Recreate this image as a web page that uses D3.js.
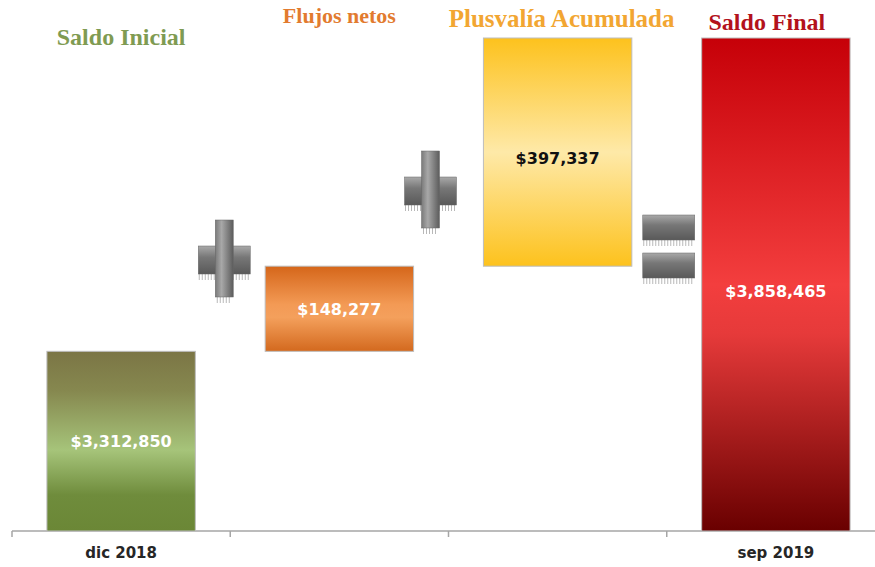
<!DOCTYPE html>
<html>
<head>
<meta charset="utf-8">
<script src="https://cdn.jsdelivr.net/npm/d3@7"></script>
<style>
  body { margin: 0; background: #fff; }
  .x.axis path, .x.axis line { stroke: #a6a6a6; stroke-width: 1.5; }
  .x.axis text { font-family: "DejaVu Sans", sans-serif; font-weight: bold; font-size: 15px; fill: #262626; }
  .title { font-family: "Liberation Serif", serif; font-weight: bold; text-anchor: middle; }
  .value { font-family: "DejaVu Sans", sans-serif; font-weight: bold; font-size: 16px; text-anchor: middle; }
</style>
</head>
<body>
<svg width="875" height="567"></svg>
<script>
// **** Data ****
var categories = ['Saldo Inicial', 'Flujos netos', 'Plusvalía Acumulada', 'Saldo Final'];
var tickLabels = ['dic 2018', '', '', 'sep 2019'];
var amounts = [3312850, 148277, 397337, 3858465];
var isTotal = [true, false, false, true];

// **** Scales ****
var width = 875, height = 567;
var svg = d3.select('svg');

var xScale = d3.scaleBand()
    .domain(categories).range([12, 885]);

var yScale = d3.scaleLinear()
    .domain([3000000, 3858465]).range([531, 38]);

// running totals for the waterfall
var running = 0;
var bars = categories.map(function(c, i) {
    var start = isTotal[i] ? yScale.domain()[0] : running;
    var end = isTotal[i] ? amounts[i] : running + amounts[i];
    running = isTotal[i] ? amounts[i] : end;
    return { name: c, label: tickLabels[i], value: amounts[i], start: start, end: end, i: i };
});

// **** Gradients ****
var defs = svg.append('defs');
var gradStops = [
    [['0%', '#7b7545'], ['22%', '#86884f'], ['55%', '#a6c47a'], ['80%', '#6f8c3c'], ['100%', '#6b8736']],
    [['0%', '#d5661a'], ['45%', '#f39a55'], ['60%', '#f4a05c'], ['100%', '#d3691e']],
    [['0%', '#fdc21d'], ['50%', '#fee9a8'], ['100%', '#fdc21d']],
    [['0%', '#c60008'], ['50%', '#f33e3e'], ['60%', '#e63a3a'], ['100%', '#690000']]
];
gradStops.forEach(function(stops, i) {
    var g = defs.append('linearGradient').attr('id', 'g' + i)
        .attr('x1', 0).attr('y1', 0).attr('x2', 0).attr('y2', 1);
    stops.forEach(function(s) {
        g.append('stop').attr('offset', s[0]).attr('stop-color', s[1]);
    });
});
var opV = defs.append('linearGradient').attr('id', 'opV')
    .attr('x1', 0).attr('y1', 0).attr('x2', 1).attr('y2', 0);
opV.append('stop').attr('offset', '0%').attr('stop-color', '#7a7a7a');
opV.append('stop').attr('offset', '35%').attr('stop-color', '#a8a8a8');
opV.append('stop').attr('offset', '100%').attr('stop-color', '#5c5c5c');
var opH = defs.append('linearGradient').attr('id', 'opH')
    .attr('x1', 0).attr('y1', 0).attr('x2', 0).attr('y2', 1);
opH.append('stop').attr('offset', '0%').attr('stop-color', '#a9a9a9');
opH.append('stop').attr('offset', '40%').attr('stop-color', '#777');
opH.append('stop').attr('offset', '100%').attr('stop-color', '#595959');

// **** Axis ****
var axis = svg.append('g').attr('class', 'x axis')
    .attr('transform', 'translate(0,' + yScale.domain().map(yScale)[0] + ')');
axis.append('line')
    .attr('x1', xScale.range()[0]).attr('x2', width);
axis.selectAll('.tick')
    .data(bars)
    .enter().append('line')
    .attr('x1', function(d) { return xScale(d.name); })
    .attr('x2', function(d) { return xScale(d.name); })
    .attr('y2', 6);
axis.selectAll('.lbl')
    .data(bars)
    .enter().append('text')
    .attr('x', function(d) { return xScale(d.name) + xScale.bandwidth() / 2; })
    .attr('y', 27)
    .attr('text-anchor', 'middle')
    .text(function(d) { return d.label; });

// **** Bars ****
var barW = xScale.bandwidth() * 0.68;
var groups = svg.selectAll('.bar')
    .data(bars)
    .enter().append('g');

groups.append('rect')
    .attr('x', function(d) { return xScale(d.name) + (xScale.bandwidth() - barW) / 2; })
    .attr('y', function(d) { return yScale(d.end); })
    .attr('width', barW)
    .attr('height', function(d) { return yScale(d.start) - yScale(d.end); })
    .attr('fill', function(d) { return 'url(#g' + d.i + ')'; })
    .attr('stroke', '#bdbdbd')
    .attr('stroke-width', 1);

groups.append('text')
    .attr('class', 'value')
    .attr('x', function(d) { return xScale(d.name) + xScale.bandwidth() / 2; })
    .attr('y', function(d) { return (yScale(d.start) + yScale(d.end)) / 2 + 6 + (d.i >= 2 ? 6 : 0); })
    .attr('fill', function(d) { return d.i === 2 ? '#111' : '#fff'; })
    .text(function(d) { return '$' + d3.format(',')(d.value); });

// **** Titles ****
var titleStyle = [
    { color: '#7f9b52', size: 24, dx: 0, y: 45 },
    { color: '#e27b2f', size: 22, dx: 0, y: 23 },
    { color: '#f2a632', size: 25, dx: 4, y: 27 },
    { color: '#b3121c', size: 24, dx: -9, y: 30 }
];
svg.selectAll('.title')
    .data(bars)
    .enter().append('text')
    .attr('class', 'title')
    .attr('x', function(d) { return xScale(d.name) + xScale.bandwidth() / 2 + titleStyle[d.i].dx; })
    .attr('y', function(d) { return titleStyle[d.i].y; })
    .attr('fill', function(d) { return titleStyle[d.i].color; })
    .style('font-size', function(d) { return titleStyle[d.i].size + 'px'; })
    .text(function(d) { return d.name; });

// **** Operators (+ + =) ****
function fringe(g, x0, x1, y) {
    for (var x = x0 + 1; x < x1; x += 3) {
        g.append('line').attr('x1', x).attr('x2', x).attr('y1', y).attr('y2', y + 6)
            .attr('stroke', '#b8b8b8').attr('stroke-width', 1);
    }
}
function plus(cx, cy) {
    var g = svg.append('g');
    fringe(g, cx - 26, cx - 8, cy + 14);
    fringe(g, cx + 8, cx + 26, cy + 14);
    fringe(g, cx - 8, cx + 8, cy + 37);
    g.append('rect').attr('x', cx - 26).attr('y', cy - 14).attr('width', 52).attr('height', 28)
        .attr('fill', 'url(#opH)').attr('stroke', '#666').attr('stroke-width', 0.5);
    g.append('rect').attr('x', cx - 9).attr('y', cy - 40).attr('width', 18).attr('height', 77)
        .attr('fill', 'url(#opV)').attr('stroke', '#666').attr('stroke-width', 0.5);
}
function equals(cx, cy) {
    var g = svg.append('g');
    [-20, 18].forEach(function(dy) {
        fringe(g, cx - 26, cx + 26, cy + dy + 12);
        g.append('rect').attr('x', cx - 26).attr('y', cy + dy - 13).attr('width', 52).attr('height', 25)
            .attr('fill', 'url(#opH)').attr('stroke', '#666').attr('stroke-width', 0.5);
    });
}
var edges = bars.map(function(d) { return xScale(d.name); });
plus(edges[1] - 6, 260);
plus(edges[2] - 18, 191);
equals(edges[3] + 2, 248);
</script>
</body>
</html>
